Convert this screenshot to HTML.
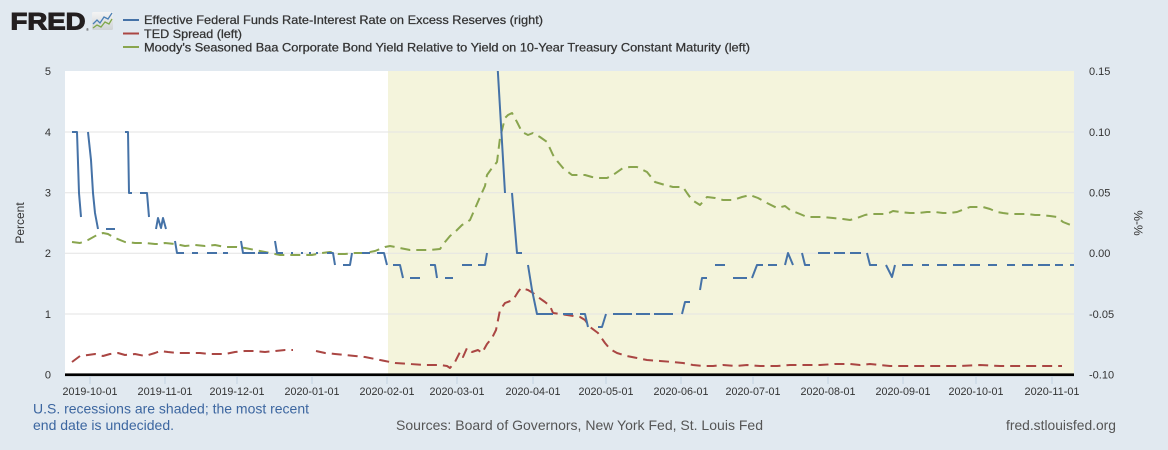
<!DOCTYPE html>
<html>
<head>
<meta charset="utf-8">
<style>
html,body{margin:0;padding:0;background:#e1e9f0;}
body{width:1168px;height:450px;overflow:hidden;}
svg{display:block;font-family:"Liberation Sans",Arial,sans-serif;}
</style>
</head>
<body>
<svg width="1168" height="450" viewBox="0 0 1168 450" xmlns="http://www.w3.org/2000/svg">
<rect x="0" y="0" width="1168" height="450" fill="#e1e9f0"/>

<!-- FRED logo -->
<text x="10.5" y="29.5" font-size="24.5" font-weight="bold" fill="#231f20" stroke="#231f20" stroke-width="1.1" textLength="75" lengthAdjust="spacingAndGlyphs">FRED</text>
<text x="86" y="31" font-size="4" fill="#231f20">®</text>
<defs>
<linearGradient id="ig" x1="0" y1="0" x2="0" y2="1">
<stop offset="0" stop-color="#f4f4f4"/><stop offset="1" stop-color="#cfd3d6"/>
</linearGradient>
<clipPath id="plot"><rect x="65" y="71" width="1009" height="304"/></clipPath>
</defs>
<rect x="92" y="12" width="21" height="18" rx="1.5" fill="url(#ig)"/>
<polyline points="93,24 97,20 100,23 104,17 108,19 112,13" fill="none" stroke="#4a7fb5" stroke-width="1.3"/>
<polyline points="93,28 97,25 101,27 105,22 109,24 112,19" fill="none" stroke="#7fa84a" stroke-width="1.3"/>

<!-- Legend -->
<line x1="123" y1="20" x2="139" y2="20" stroke="#4572a7" stroke-width="2"/>
<line x1="123" y1="33.5" x2="139" y2="33.5" stroke="#aa4643" stroke-width="2"/>
<line x1="123" y1="47" x2="139" y2="47" stroke="#89a54e" stroke-width="2"/>
<g font-size="12" fill="#333" stroke="#333" stroke-width="0.25">
<text x="144" y="24" textLength="399" lengthAdjust="spacingAndGlyphs">Effective Federal Funds Rate-Interest Rate on Excess Reserves (right)</text>
<text x="144" y="38" textLength="98" lengthAdjust="spacingAndGlyphs">TED Spread (left)</text>
<text x="144" y="51.5" textLength="606" lengthAdjust="spacingAndGlyphs">Moody's Seasoned Baa Corporate Bond Yield Relative to Yield on 10-Year Treasury Constant Maturity (left)</text>
</g>

<!-- Plot background -->
<rect x="65" y="71" width="1009" height="304" fill="#ffffff"/>
<rect x="388" y="71" width="686" height="304" fill="#f4f4dc"/>

<!-- Gridlines -->
<g stroke="#e3e3e3" stroke-width="1">
<line x1="65" y1="132" x2="1074" y2="132"/>
<line x1="65" y1="192.7" x2="1074" y2="192.7"/>
<line x1="65" y1="253.3" x2="1074" y2="253.3"/>
<line x1="65" y1="314" x2="1074" y2="314"/>
</g>

<g clip-path="url(#plot)" fill="none" stroke-width="2" stroke-linejoin="round">
<!-- Green: Baa spread -->
<polyline stroke="#89a54e" stroke-dasharray="10 6" points="72,242 80,243 88,240 97,235 103,233 108,234 115,238 125,242 135,243 145,243 155,244 160,244 165,243 175,244 185,246 195,245 205,246 215,245 225,247 237,247 245,248 255,250 265,252 280,255 290,255 300,255 312,255 322,253 330,252 338,254 345,254 355,253 365,253 375,251 380,249 385,247 390,246 400,248 410,250 420,250 430,250 440,249 445,242 450,236 455,232 462,225 467,222 470,220 480,197 485,186 487,175 492,168 497,162 500,138 505,118 508,115 512,113 517,122 522,132 528,135 533,133 540,137 547,142 553,155 558,162 563,168 572,175 580,175 585,175 592,177 600,178 607,178 613,175 623,168 630,167 637,167 647,172 651,177 655,182 665,185 673,187 683,187 687,193 692,200 700,205 707,197 715,198 723,200 733,200 742,197 750,195 758,198 767,203 777,208 785,206 790,210 800,214 807,217 815,217 823,217 833,218 843,219 850,220 857,218 865,215 870,214 880,214 887,214 893,211 900,212 910,213 918,213 927,212 935,212 943,213 950,213 957,212 965,209 970,207 977,207 983,207 990,209 997,212 1003,213 1010,214 1018,214 1027,214 1035,215 1040,215 1050,216 1057,217 1063,222 1073,226"/>

<!-- Red: TED spread -->
<polyline stroke="#aa4643" stroke-dasharray="10 6" points="72,362 80,356 88,355 95,354 103,356 110,354 118,353 125,355 135,354 145,356 155,353 160,351 168,352 178,353 190,353 200,353 210,354 225,354 235,352 245,351 255,351 265,352 275,351 285,350 293,350"/>
<polyline stroke="#aa4643" stroke-dasharray="10 6" points="316,351 325,353 335,354 345,355 355,356 365,357 375,359 385,361 395,363 410,364 425,365 440,365 447,366 450,368 455,362 460,352 463,357 467,348 472,352 478,350 482,353 487,344 492,338 496,330 500,310 505,303 513,300 518,292 521,288 528,290 533,293 538,297 545,302 550,306 553,313 560,314 567,315 580,317 585,320 590,327 598,333 605,343 610,349 617,353 627,356 637,358 647,360 660,361 673,362 683,363 693,365 703,366 713,366 723,365 735,366 747,365 760,366 777,366 790,365 805,365 820,365 835,364 850,364 860,365 870,364 880,365 890,366 905,366 920,366 940,366 960,366 980,365 1000,366 1015,366 1030,366 1045,366 1062,366"/>

<!-- Blue: EFFR - IOER -->
<path stroke="#4572a7" d="
M72,132 L77,132 L79,193 L81,217
M88,132 L91,160 L93,193 L95,213 L98,229
M106,229 L115,229
M125,132 L128,132 L129,193 L132,193
M140,193 L147,193 L149,217
M156,229 L158,218 L161,228 L163,218 L166,229
M175,241 L177,253 L184,253
M192,253 L198,253
M207,253 L217,253
M223,253 L228,253
M241,241 L243,253 L255,253
M258,253 L268,253
M275,241 L277,253 L283,253
M291,253 L293,253 M301,253 L303,253 M309,253 L311,253 M316,253 L318,253
M327,253 L333,253 L335,265
M343,265 L350,265 L352,253
M362,253 L370,253
M377,253 L384,253 L387,265
M393,265 L400,265 L403,278
M410,278 L420,278
M430,265 L435,265 L437,278
M445,278 L453,278
M462,265 L472,265
M478,265 L485,265 L487,253
M496,40 L505,193
M512,193 L517,253 L522,253
M528,265 L532,290 L537,314 L553,314
M563,314 L573,314
M580,314 L585,314 L588,327
M598,327 L602,327 L606,314
M613,314 L632,314
M636,314 L650,314
M654,314 L673,314
M682,314 L685,302 L690,302
M700,290 L702,278 L707,278
M715,265 L725,265
M733,278 L747,278
M752,278 L757,265 L763,265
M768,265 L777,265
M785,265 L788,253 L793,265
M802,253 L805,265 L810,265
M818,253 L830,253
M834,253 L845,253
M850,253 L861,253
M867,253 L870,265 L877,265
M886,265 L892,277 L895,265
M902,265 L913,265
M922,265 L929,265
M937,265 L947,265
M953,265 L965,265
M970,265 L980,265
M988,265 L997,265
M1007,265 L1015,265
M1022,265 L1033,265
M1038,265 L1050,265
M1055,265 L1063,265
M1070,265 L1074,265"/>
</g>

<!-- X axis line -->
<rect x="65" y="373.4" width="1009" height="2.7" fill="#000"/>

<!-- X ticks -->
<g stroke="#c4d3e2" stroke-width="1">
<line x1="90" y1="376" x2="90" y2="384"/>
<line x1="165" y1="376" x2="165" y2="384"/>
<line x1="237" y1="376" x2="237" y2="384"/>
<line x1="312" y1="376" x2="312" y2="384"/>
<line x1="387" y1="376" x2="387" y2="384"/>
<line x1="457" y1="376" x2="457" y2="384"/>
<line x1="533" y1="376" x2="533" y2="384"/>
<line x1="606" y1="376" x2="606" y2="384"/>
<line x1="681" y1="376" x2="681" y2="384"/>
<line x1="753" y1="376" x2="753" y2="384"/>
<line x1="828" y1="376" x2="828" y2="384"/>
<line x1="903" y1="376" x2="903" y2="384"/>
<line x1="976" y1="376" x2="976" y2="384"/>
<line x1="1052" y1="376" x2="1052" y2="384"/>
</g>
<g font-size="11" fill="#333" text-anchor="middle">
<text x="90" y="395" textLength="55" lengthAdjust="spacingAndGlyphs">2019-10-01</text>
<text x="165" y="395" textLength="55" lengthAdjust="spacingAndGlyphs">2019-11-01</text>
<text x="237" y="395" textLength="55" lengthAdjust="spacingAndGlyphs">2019-12-01</text>
<text x="312" y="395" textLength="55" lengthAdjust="spacingAndGlyphs">2020-01-01</text>
<text x="387" y="395" textLength="55" lengthAdjust="spacingAndGlyphs">2020-02-01</text>
<text x="457" y="395" textLength="55" lengthAdjust="spacingAndGlyphs">2020-03-01</text>
<text x="533" y="395" textLength="55" lengthAdjust="spacingAndGlyphs">2020-04-01</text>
<text x="606" y="395" textLength="55" lengthAdjust="spacingAndGlyphs">2020-05-01</text>
<text x="681" y="395" textLength="55" lengthAdjust="spacingAndGlyphs">2020-06-01</text>
<text x="753" y="395" textLength="55" lengthAdjust="spacingAndGlyphs">2020-07-01</text>
<text x="828" y="395" textLength="55" lengthAdjust="spacingAndGlyphs">2020-08-01</text>
<text x="903" y="395" textLength="55" lengthAdjust="spacingAndGlyphs">2020-09-01</text>
<text x="976" y="395" textLength="55" lengthAdjust="spacingAndGlyphs">2020-10-01</text>
<text x="1052" y="395" textLength="55" lengthAdjust="spacingAndGlyphs">2020-11-01</text>
</g>

<!-- Left Y labels -->
<g font-size="11" fill="#333" text-anchor="end">
<text x="51" y="75">5</text>
<text x="51" y="136">4</text>
<text x="51" y="196.5">3</text>
<text x="51" y="257">2</text>
<text x="51" y="318">1</text>
<text x="51" y="378.5">0</text>
</g>
<!-- Right Y labels -->
<g font-size="11" fill="#333">
<text x="1089" y="75">0.15</text>
<text x="1089" y="136">0.10</text>
<text x="1089" y="196.5">0.05</text>
<text x="1089" y="257">0.00</text>
<text x="1089" y="318">-0.05</text>
<text x="1089" y="378.5">-0.10</text>
</g>

<!-- Axis titles -->
<text x="0" y="0" font-size="12" fill="#333" text-anchor="middle" transform="translate(24,223) rotate(-90)">Percent</text>
<text x="0" y="0" font-size="12" fill="#333" text-anchor="middle" transform="translate(1134,223) rotate(90)">%-%</text>

<!-- Footer -->
<g font-size="14">
<text x="33" y="413.3" fill="#3c66a0" textLength="276" lengthAdjust="spacingAndGlyphs">U.S. recessions are shaded; the most recent</text>
<text x="33" y="430" fill="#3c66a0" textLength="141" lengthAdjust="spacingAndGlyphs">end date is undecided.</text>
<text x="396" y="430" fill="#555" textLength="367" lengthAdjust="spacingAndGlyphs">Sources: Board of Governors, New York Fed, St. Louis Fed</text>
<text x="1006" y="430" fill="#555" textLength="110" lengthAdjust="spacingAndGlyphs">fred.stlouisfed.org</text>
</g>
</svg>
</body>
</html>
